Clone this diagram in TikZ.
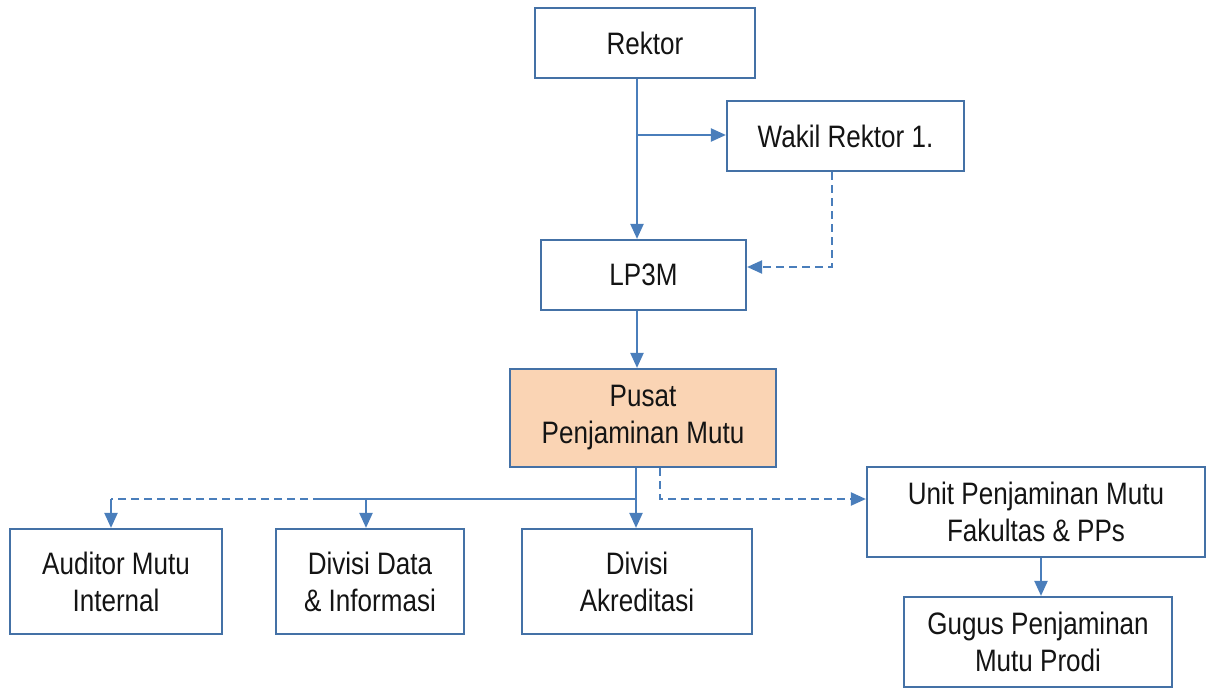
\documentclass[tikz,border=0pt]{standalone}
\usepackage{fontspec}
\setmainfont{Liberation Sans}[FakeStretch=0.84]
\usetikzlibrary{arrows.meta}
\definecolor{boxline}{HTML}{4471A6}
\definecolor{conn}{HTML}{4A7EBB}
\definecolor{peach}{HTML}{FAD4B4}
\definecolor{txt}{HTML}{141414}
\begin{document}
\begin{tikzpicture}[x=1pt,y=-1pt,
  orgbox/.style={draw=boxline,line width=2.2pt,fill=white,align=center,text=txt,
    font=\fontsize{31}{37}\selectfont,inner sep=0pt},
  arr/.style={draw=conn,line width=2.2pt,-{Triangle[length=15pt,width=13pt]}},
  plain/.style={draw=conn,line width=2.2pt},
  dsh/.style={dash pattern=on 8pt off 5pt}]
\useasboundingbox (0,0) rectangle (1207,688);
\node[orgbox,minimum width=220,minimum height=70] (rektor) at (645,43) {Rektor};
\node[orgbox,minimum width=237,minimum height=70] (wakil) at (845.5,136) {Wakil Rektor 1.};
\node[orgbox,minimum width=205,minimum height=70] (lp3m) at (643.5,275) {LP3M};
\node[orgbox,fill=peach,minimum width=266,minimum height=98] (pusat) at (643,418) {Pusat\\Penjaminan Mutu};
\node[orgbox,minimum width=212,minimum height=105] (auditor) at (116,581.5) {Auditor Mutu\\Internal};
\node[orgbox,minimum width=188,minimum height=105] (data) at (370,581.5) {Divisi Data\\\& Informasi};
\node[orgbox,minimum width=230,minimum height=105] (akred) at (637,581.5) {Divisi\\Akreditasi};
\node[orgbox,minimum width=338,minimum height=90] (unit) at (1036,512) {Unit Penjaminan Mutu\\Fakultas \& PPs};
\node[orgbox,minimum width=268,minimum height=90] (gugus) at (1038,642) {Gugus Penjaminan\\Mutu Prodi};
% guide coordinates
\coordinate (xa) at (637,0);
\coordinate (xw) at (832,0);
\coordinate (yw) at (0,135);
\coordinate (yl) at (0,267);
\coordinate (xp) at (636,0);
\coordinate (xd) at (660,0);
\coordinate (yb) at (0,499);
\coordinate (xdata) at (366,0);
\coordinate (xaud) at (111,0);
\coordinate (xsplit) at (321,0);
\coordinate (xu) at (1041,0);
% Rektor -> LP3M and Wakil
\draw[arr] (rektor.south -| xa) -- (lp3m.north -| xa);
\draw[arr] (xa |- yw) -- (wakil.west |- yw);
\draw[arr,dsh] (wakil.south -| xw) -- (xw |- yl) -- (lp3m.east |- yl);
% LP3M -> Pusat
\draw[arr] (lp3m.south -| xa) -- (pusat.north -| xa);
% Pusat -> divisions
\draw[arr] (pusat.south -| xp) -- (akred.north -| xp);
\draw[plain] (xp |- yb) -- (xsplit |- yb);
\draw[arr] (xdata |- yb) -- (data.north -| xdata);
\draw[plain,dsh] (xsplit |- yb) -- (xaud |- yb);
\draw[arr] (xaud |- yb) -- (auditor.north -| xaud);
% Pusat -> Unit
\draw[arr,dsh] (pusat.south -| xd) -- (xd |- yb) -- (unit.west |- yb);
% Unit -> Gugus
\draw[arr] (unit.south -| xu) -- (gugus.north -| xu);
\end{tikzpicture}
\end{document}
